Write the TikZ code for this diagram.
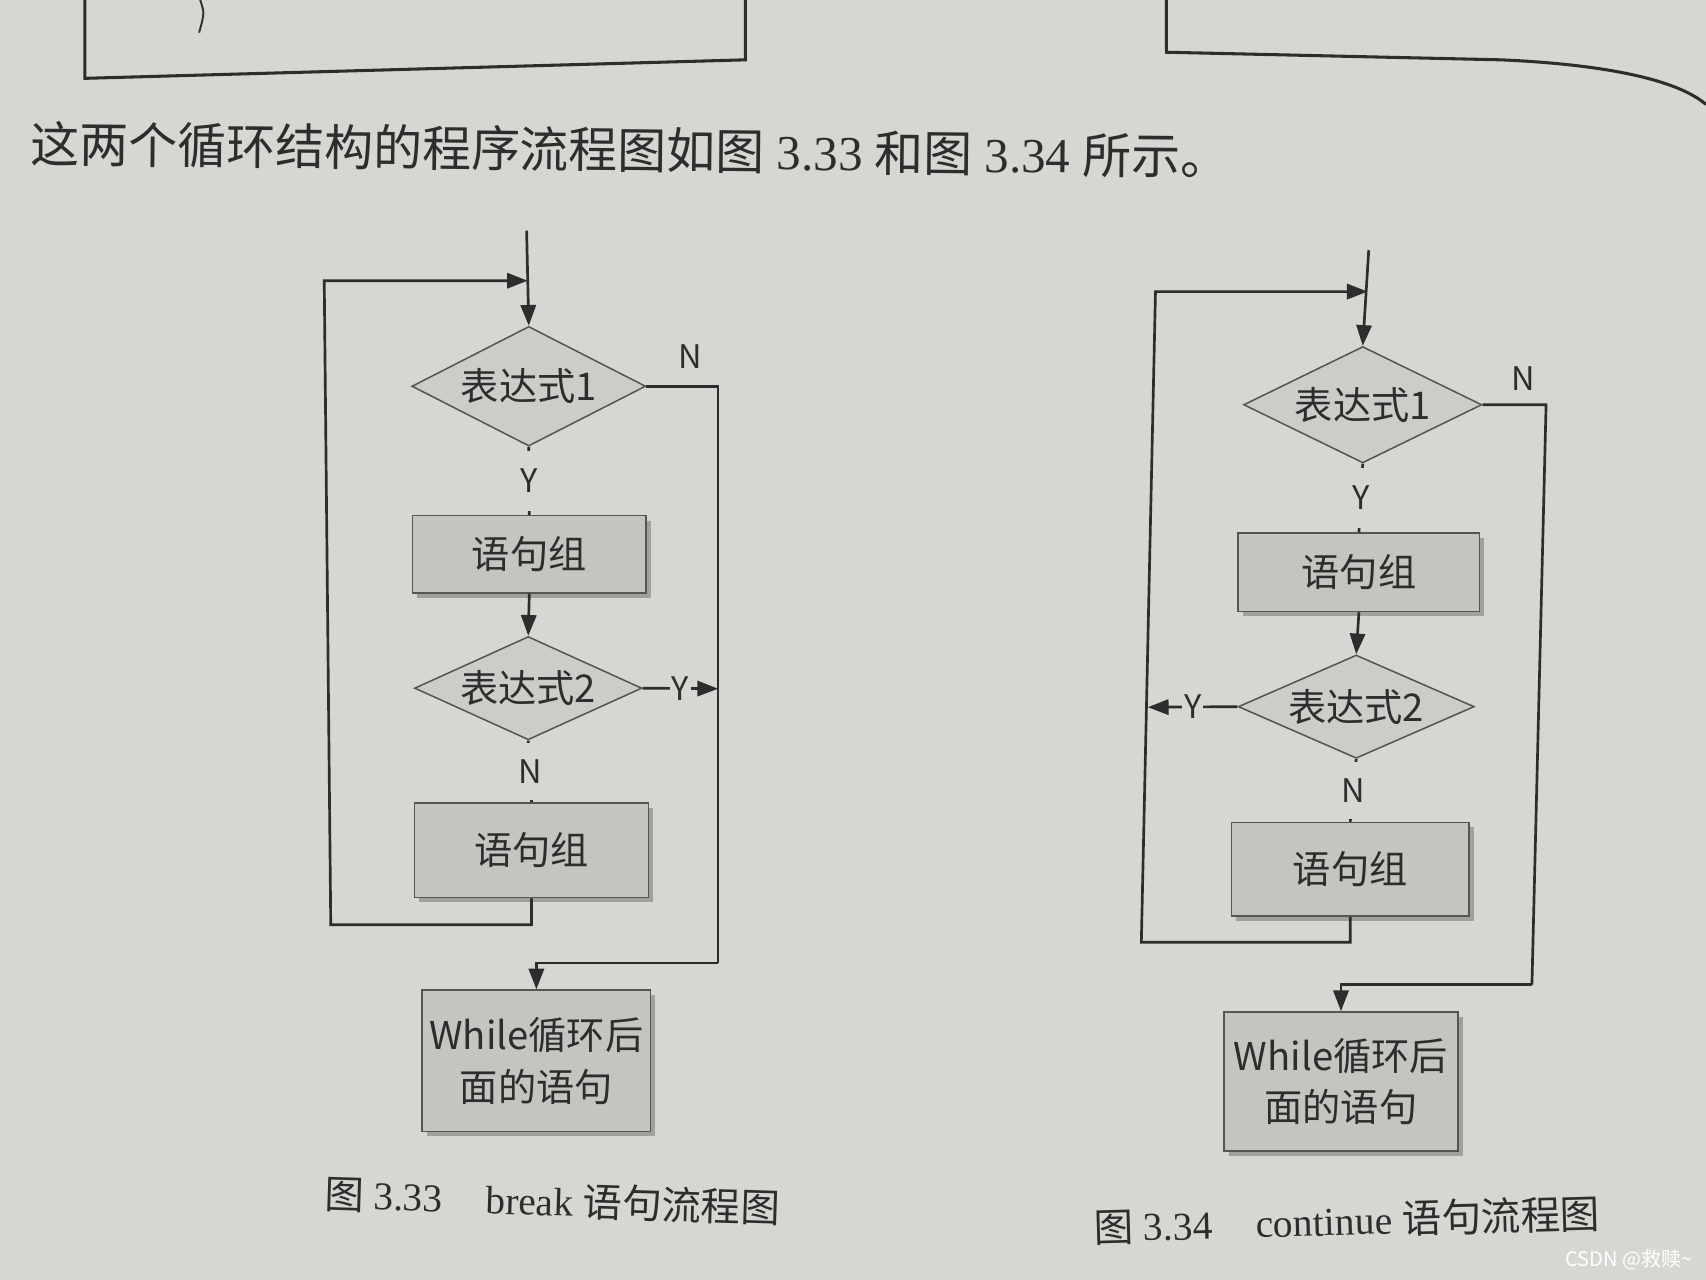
\documentclass[tikz,border=0pt]{standalone}
\usepackage{fontspec}
\setmainfont{Liberation Serif}
\newfontfamily\cjk{Noto Sans CJK SC}
\usetikzlibrary{shapes.geometric,arrows.meta,shadows}
\definecolor{paper}{RGB}{214,214,210}
\definecolor{ink}{RGB}{45,45,45}
\definecolor{edge}{RGB}{85,85,85}
\definecolor{boxfill}{RGB}{196,196,193}
\definecolor{diafill}{RGB}{204,204,201}
\definecolor{txt}{RGB}{45,45,45}
\tikzset{
  conn/.style={line width=1.4pt, draw=ink},
  arr/.style={conn, -{Triangle[length=0.38cm,width=0.28cm]}},
  boxnode/.style={rectangle, draw=edge, line width=0.8pt, fill=boxfill, text=txt,
    font=\cjk\fontsize{20}{27}\selectfont, align=center, inner sep=0pt,
    drop shadow={shadow xshift=2.5pt, shadow yshift=-2.5pt, fill=black, opacity=0.25}},
  dianode/.style={diamond, shape aspect=2, draw=edge, line width=0.8pt, fill=diafill, text=txt,
    font=\cjk\fontsize{20}{24}\selectfont, inner sep=0pt},
  lbl/.style={font=\cjk\fontsize{17}{20}\selectfont, text=txt, fill=paper, inner sep=3pt},
  lblnf/.style={font=\cjk\fontsize{17}{20}\selectfont, text=txt, inner sep=1pt},
  pageline/.style={line width=1.6pt, draw=ink},
}
\begin{document}
\begin{tikzpicture}[x=0.02cm,y=-0.02cm]
\fill[paper] (0,0) rectangle (1568,1176);
\useasboundingbox (0,0) rectangle (1568,1176);

% fragments of the page above
\draw[pageline] (78,0) -- (78,72) -- (685,55) -- (685,0);
\draw[line width=1pt, draw=ink] (184,0) .. controls (188,12) .. (183,30);
\draw[pageline] (1072,0) -- (1072,48) -- (1380,55) .. controls (1470,59) and (1540,72) .. (1568,96);

% running text
\node[anchor=west, text=txt, font=\fontsize{25.6}{30}\selectfont, inner sep=0pt, rotate=-0.6] (para) at (28,132)
  {{\cjk 这两个循环结构的程序流程图如图} 3.33 {\cjk 和图} 3.34 {\cjk 所示。}};

% ---------------- Figure 3.33 (break) ----------------
\node[dianode, minimum width=4.3cm, minimum height=2.2cm] (d1L) at (486,355) {表达式1};
\node[boxnode, minimum width=4.3cm, minimum height=1.42cm] (b1L) at (486.5,509.5) {语句组};
\node[dianode, minimum width=4.18cm, minimum height=1.9cm] (d2L) at (485.5,632.5) {表达式2};
\node[boxnode, minimum width=4.3cm, minimum height=1.74cm] (b2L) at (488.5,781.5) {语句组};
\node[boxnode, minimum width=4.2cm, minimum height=2.6cm] (b3L) at (493,975) {While循环后\\面的语句};

\coordinate (inL) at (484,212);
\coordinate (jL) at (485,258);
\coordinate (lpL2) at (304,850);
\coordinate (lpL3) at (298,258);
\coordinate (rtL1) at (660,355);
\coordinate (rtL2) at (660,885);
\coordinate (yL) at (660,633);

\draw[arr] (inL) -- (d1L.north);
\draw[conn] (d1L.south) -- node[lbl, minimum height=1.1cm] {Y} (b1L.north);
\draw[arr] (b1L.south) -- (d2L.north);
\draw[conn] (d2L.south) -- node[lbl, minimum height=1.05cm] {N} (b2L.north);
\draw[arr] (b2L.south) |- (lpL2) -- (lpL3) -- (jL);
\draw[conn] (d1L.east) -- (rtL1) -- (rtL2);
\draw[arr] (rtL2) -| (b3L.north);
\draw[arr] (d2L.east) -- node[lbl, inner sep=1pt, pos=0.5] {Y} (yL);
\node[lblnf] (nL) at (634,328) {N};

\node[anchor=west, text=txt, font=\fontsize{20.6}{24}\selectfont, inner sep=0pt, rotate=-1.8] (capL) at (298,1097)
  {{\cjk 图} 3.33\hspace{1.1em}break {\cjk 语句流程图}};

% ---------------- Figure 3.34 (continue) ----------------
\node[dianode, minimum width=4.38cm, minimum height=2.14cm] (d1R) at (1252.5,372) {表达式1};
\node[boxnode, minimum width=4.44cm, minimum height=1.44cm] (b1R) at (1249,526) {语句组};
\node[dianode, minimum width=4.34cm, minimum height=1.9cm] (d2R) at (1246.5,649.5) {表达式2};
\node[boxnode, minimum width=4.36cm, minimum height=1.72cm] (b2R) at (1241,799) {语句组};
\node[boxnode, minimum width=4.3cm, minimum height=2.56cm] (b3R) at (1232.5,994) {While循环后\\面的语句};

\coordinate (inR) at (1258,230);
\coordinate (jR) at (1257,268);
\coordinate (lpR2) at (1049,866);
\coordinate (lpR3) at (1062,268);
\coordinate (rtR1) at (1421,372);
\coordinate (rtR2) at (1408,905);
\coordinate (yR) at (1055,650);

\draw[arr] (inR) -- (d1R.north);
\draw[conn] (d1R.south) -- node[lbl, minimum height=1.1cm] {Y} (b1R.north);
\draw[arr] (b1R.south) -- (d2R.north);
\draw[conn] (d2R.south) -- node[lbl, minimum height=1.05cm] {N} (b2R.north);
\draw[arr] (b2R.south) |- (lpR2) -- (lpR3) -- (jR);
\draw[conn] (d1R.east) -- (rtR1) -- (rtR2);
\draw[arr] (rtR2) -| (b3R.north);
\draw[arr] (d2R.west) -- node[lbl, inner sep=1pt, pos=0.5] {Y} (yR);
\node[lblnf] (nR) at (1400,348) {N};

\node[anchor=west, text=txt, font=\fontsize{20.7}{24}\selectfont, inner sep=0pt, rotate=1.6] (capR) at (1005,1128)
  {{\cjk 图} 3.34\hspace{1.1em}continue {\cjk 语句流程图}};

% watermark
\node[anchor=east, text=white, font=\cjk\fontsize{10.5}{12}\selectfont, inner sep=0pt] (wm) at (1556,1158) {CSDN @救赎\textasciitilde};
\end{tikzpicture}
\end{document}
